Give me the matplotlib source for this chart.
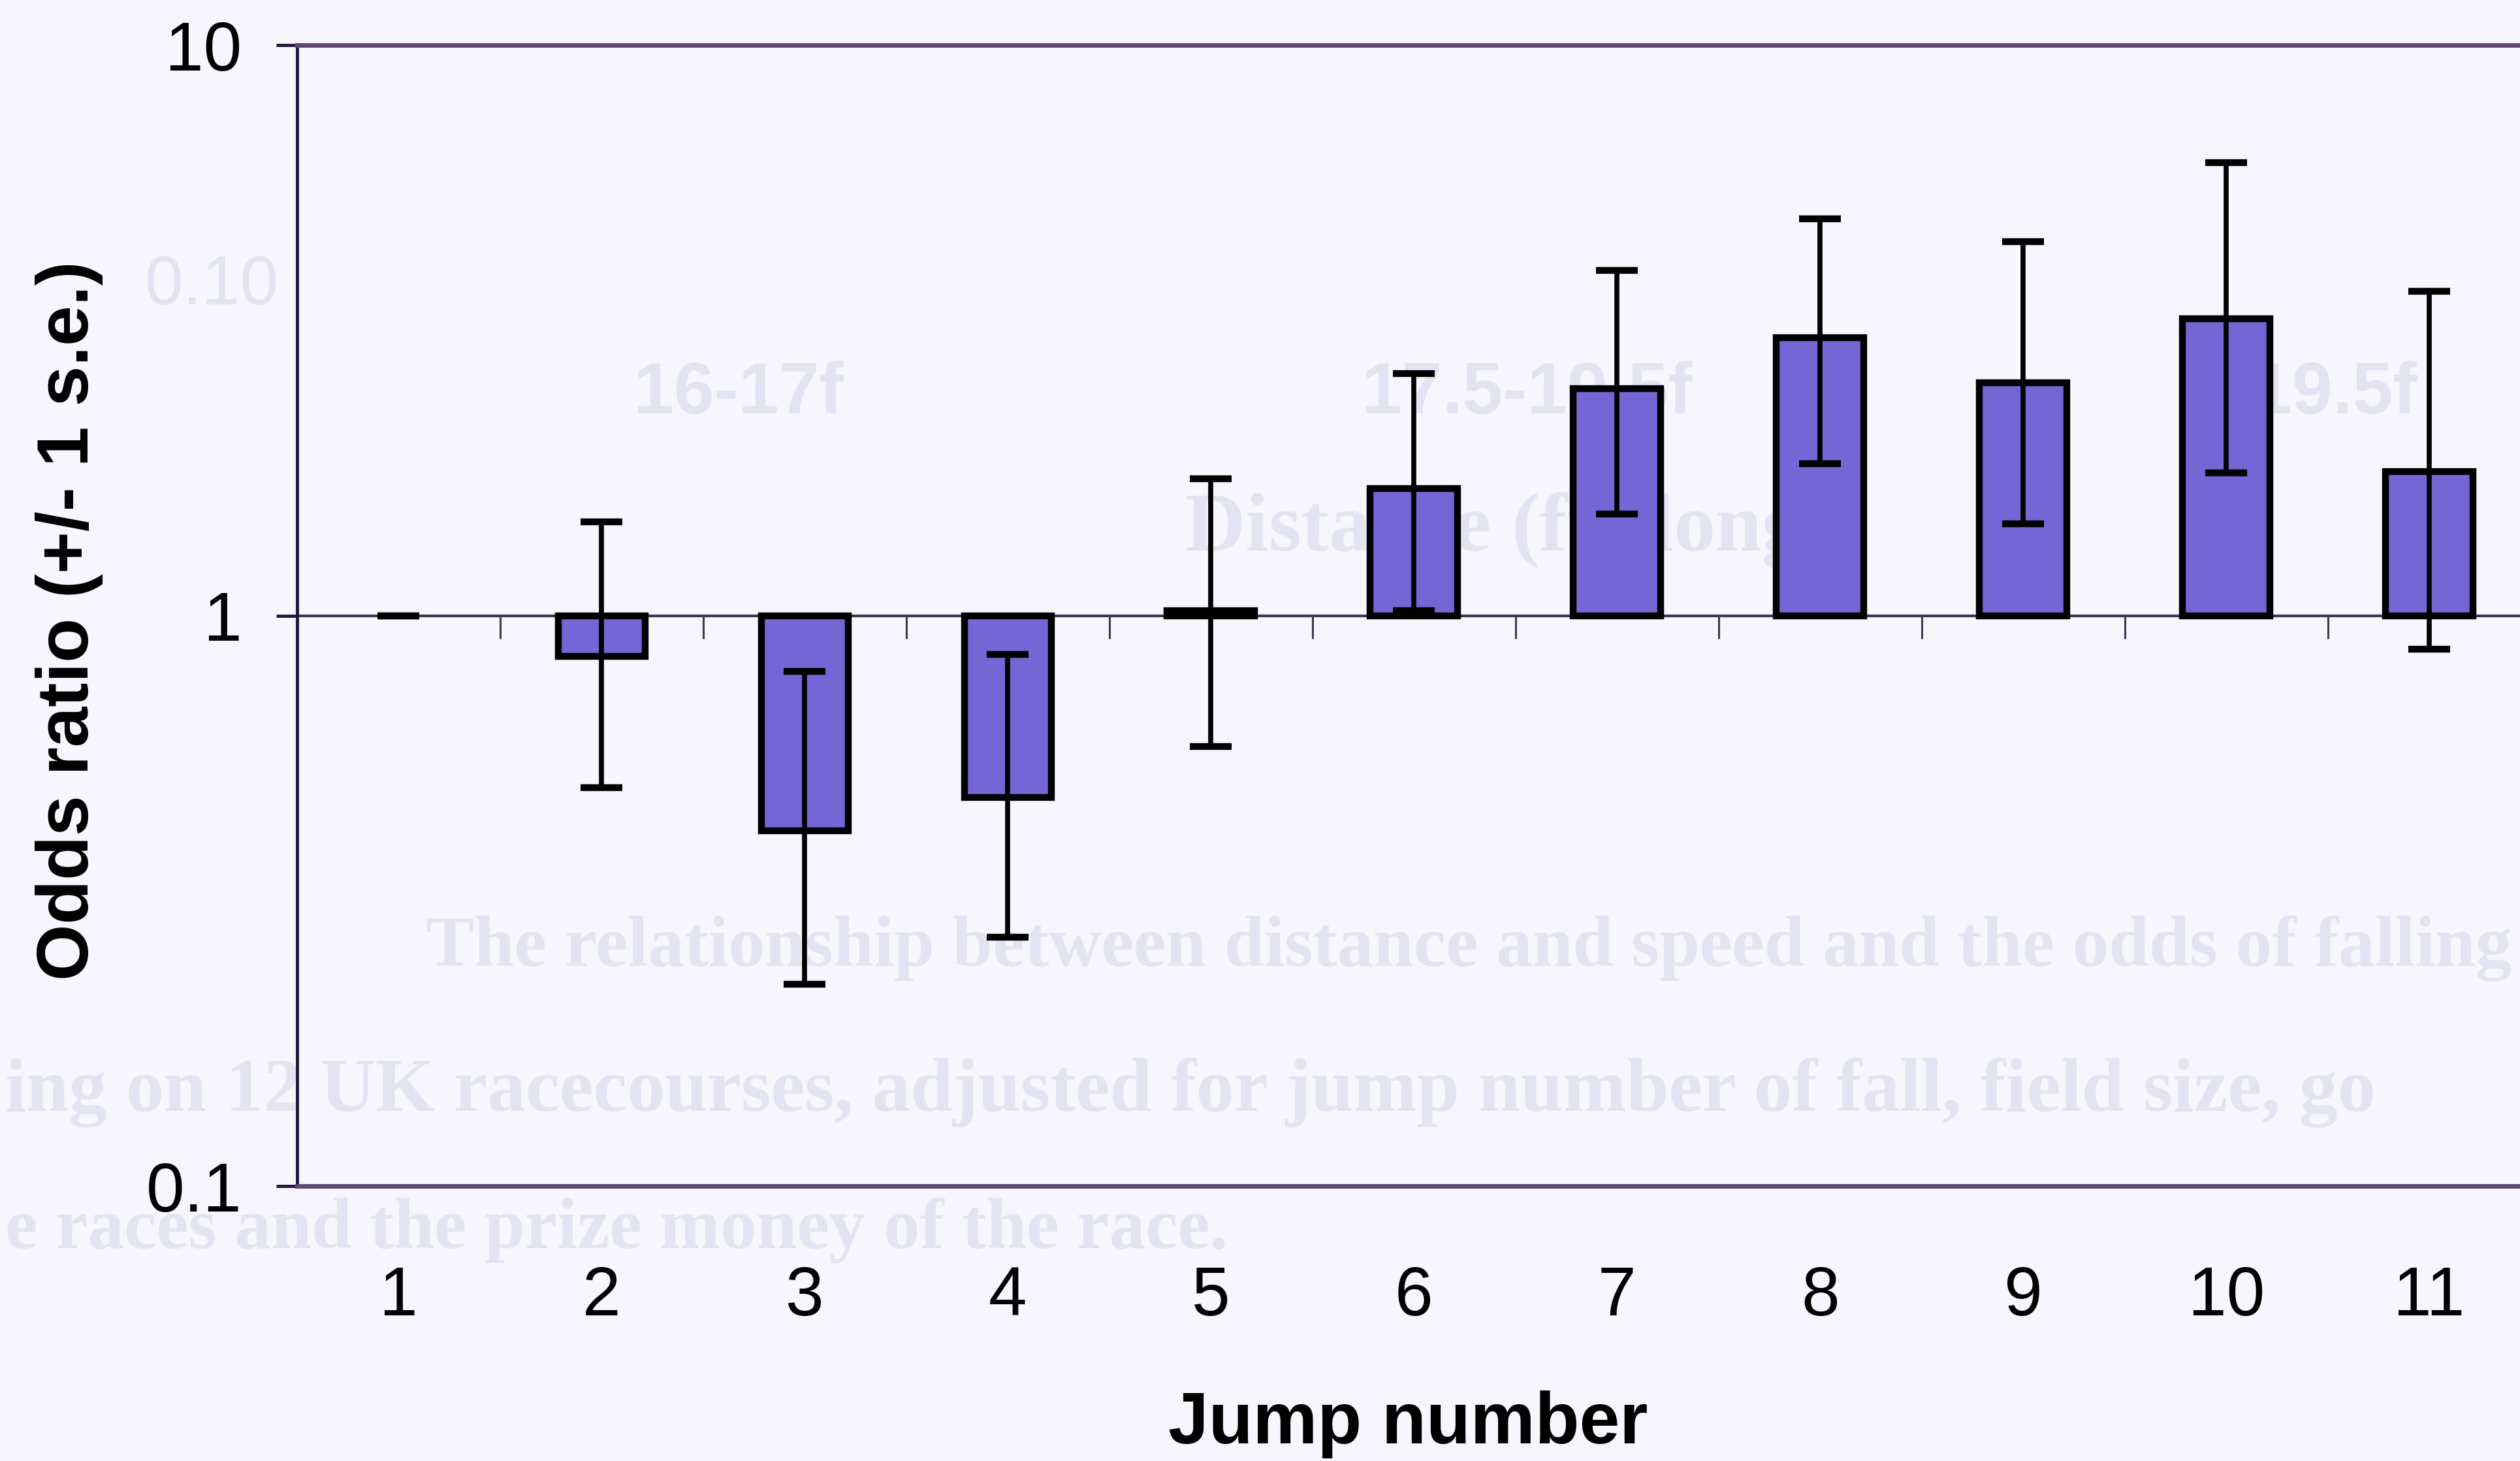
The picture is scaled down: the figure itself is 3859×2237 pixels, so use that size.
import matplotlib
matplotlib.use("Agg")
import matplotlib.pyplot as plt
import numpy as np

plt.rcParams['font.family'] = ['Liberation Sans', 'DejaVu Sans']

# Odds ratio of falling by jump number
jumps = [1, 2, 3, 4, 5, 6, 7, 8, 9, 10, 11]
odds = [1.0, 0.85, 0.42, 0.48, 1.02, 1.67, 2.50, 3.07, 2.56, 3.32, 1.79]
upper = [1.0, 1.46, 0.80, 0.855, 1.74, 2.66, 4.03, 4.96, 4.53, 6.23, 3.71]
lower = [1.0, 0.50, 0.226, 0.273, 0.59, 1.02, 1.51, 1.85, 1.45, 1.78, 0.873]
ytick_vals = [0.1, 1, 10]
ytick_labels = ['0.1', '1', '10']

bg = '#f6f6fc'
bar_color = '#7466d4'
ghost = '#e3e4f1'

fig = plt.figure(figsize=(38.59, 22.37), dpi=100, facecolor=bg)
ax = fig.add_axes([0.1179, 0.188, 0.967, 0.781])
ax.patch.set_alpha(0)

odds_a = np.array(odds)
heights = odds_a - 1
lws = [0 if v == 1 else 7.5 for v in odds]
ax.bar(jumps, heights, bottom=1, width=0.43, color=bar_color,
       edgecolor='black', linewidth=lws, zorder=3)
ax.errorbar(jumps, odds, yerr=[odds_a - np.array(lower), np.array(upper) - odds_a],
            fmt='none', ecolor='black', elinewidth=5.5, capsize=23, capthick=7.5, zorder=4)

ax.set_yscale('log')
ax.set_ylim(0.1, 10)
ax.set_xlim(0.5, 12.5)
ax.set_yticks(ytick_vals)
ax.set_yticklabels(ytick_labels)
ax.yaxis.set_minor_locator(matplotlib.ticker.NullLocator())
ax.set_xticks(jumps)
ax.set_xticklabels([str(j) for j in jumps])
ax.tick_params(axis='x', length=0, pad=87, labelsize=76)
ax.tick_params(axis='y', length=23, width=3.5, pad=38, labelsize=76, color='#201838')

ax.spines['right'].set_visible(False)
ax.spines['left'].set_color('#201838')
ax.spines['left'].set_linewidth(3.5)
for s in ['top', 'bottom']:
    ax.spines[s].set_color('#5c4870')
    ax.spines[s].set_linewidth(5)

# category axis crossing at odds ratio 1
sec = ax.secondary_xaxis(0.5)
sec.set_alignment('bottom')
sec.set_xticks([j + 0.5 for j in jumps])
sec.tick_params(direction='out', length=25, width=2.2, labelbottom=False,
                color='#3a3a50')
sec.spines['bottom'].set_color('#3a3a50')
sec.spines['bottom'].set_linewidth(3)

ax.set_ylabel('Odds ratio (+/- 1 s.e.)', fontsize=80, fontweight='bold')
ax.yaxis.set_label_coords(-0.0796, 0.496)
ax.set_xlabel('Jump number', fontsize=80, fontweight='bold')
ax.xaxis.set_label_coords(0.456, -0.179)

# faint show-through from the facing page
gkw = dict(color=ghost, zorder=-1)
fig.text(0.084, 0.804, '0.10', fontsize=76, ha='center', va='center', **gkw)
fig.text(0.293, 0.730, '16-17f', fontsize=80, fontweight='bold', ha='center', va='center', **gkw)
fig.text(0.606, 0.730, '17.5-19.5f', fontsize=80, fontweight='bold', ha='center', va='center', **gkw)
fig.text(0.918, 0.730, '>19.5f', fontsize=80, fontweight='bold', ha='center', va='center', **gkw)
fig.text(0.605, 0.637, 'Distance (furlongs)', fontsize=92, family='Liberation Serif',
         fontweight='bold', ha='center', va='center', **gkw)
fig.text(0.169, 0.351, 'The relationship between distance and speed and the odds of falling',
         fontsize=80, family='Liberation Serif', fontweight='bold', va='center', **gkw)
fig.text(0.002, 0.252, 'ing on 12 UK racecourses, adjusted for jump number of fall, field size, go',
         fontsize=84, family='Liberation Serif', fontweight='bold', va='center', **gkw)
fig.text(0.002, 0.158, 'e races and the prize money of the race.',
         fontsize=80, family='Liberation Serif', fontweight='bold', va='center', **gkw)

fig.savefig('out.png', dpi=100, facecolor=bg)
